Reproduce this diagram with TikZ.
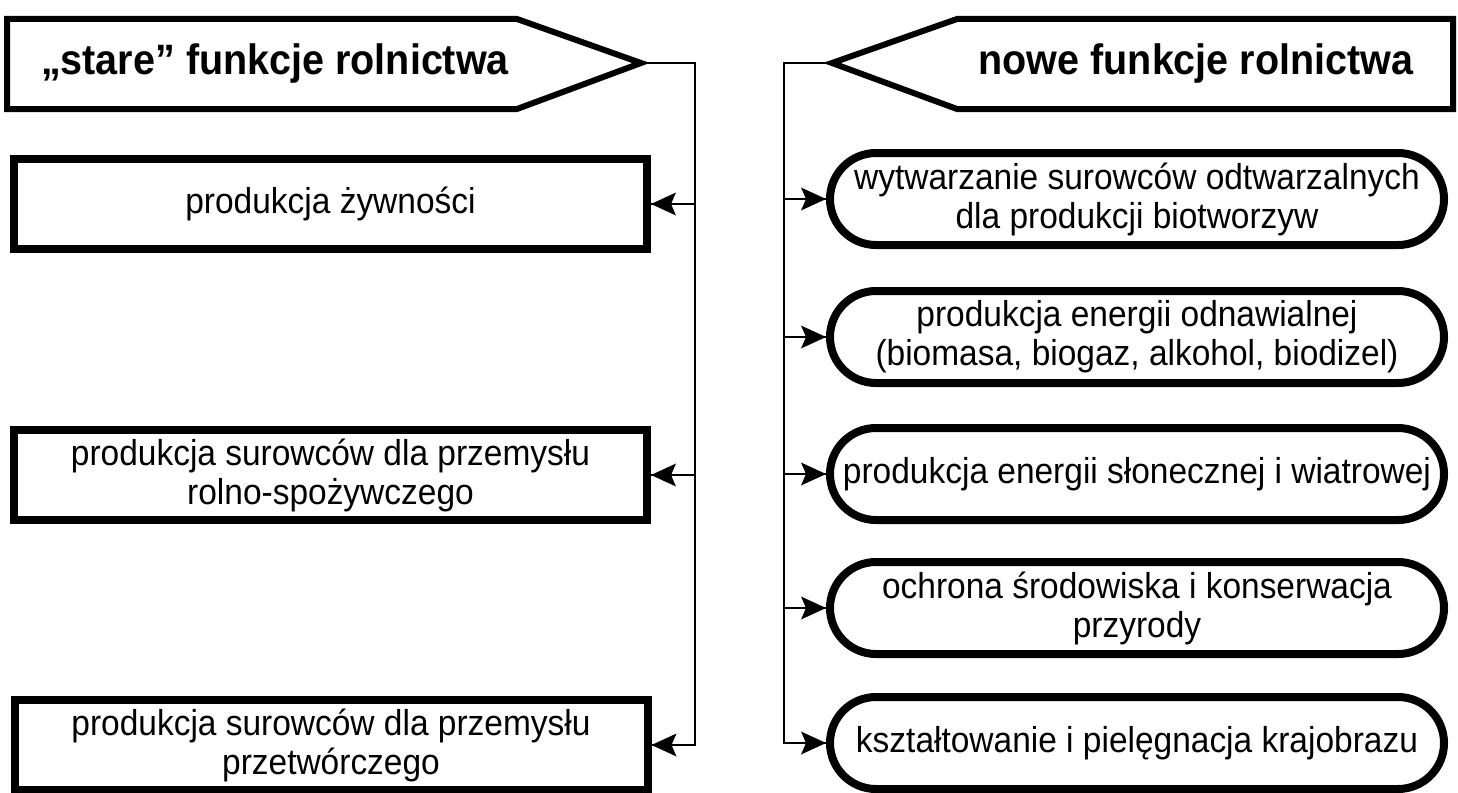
\documentclass[tikz,border=0pt]{standalone}
\usepackage{fontspec}
\setmainfont{Liberation Sans}[FakeStretch=0.93]
\usetikzlibrary{shapes.misc}
\tikzset{
  box/.style={draw, line width=8pt, minimum width=633pt, minimum height=90pt, align=center,
    font=\fontsize{36}{39}\selectfont, inner sep=0pt},
  rbox/.style={draw, rounded rectangle, line width=8pt, minimum width=614pt, minimum height=92pt,
    align=center, font=\fontsize{36}{39}\selectfont, inner sep=0pt},
  hdr/.style={draw, line width=6pt, line join=miter, fill=white},
  conn/.style={line width=2pt},
  headL/.pic={\fill (0,0) -- (25,-11.5) -- (20,0) -- (25,11.5) -- cycle;},
  headR/.pic={\fill (0,0) -- (-25,-11.5) -- (-20,0) -- (-25,11.5) -- cycle;},
  titletext/.style={font=\fontsize{42.5}{46}\selectfont\bfseries, inner sep=0pt}
}
\begin{document}
\begin{tikzpicture}[x=1pt,y=-1pt]
\useasboundingbox (0,0) rectangle (1458,792);
% headers
\draw[hdr] (7,19) -- (517,19) -- (641,63) -- (517,109) -- (7,109) -- cycle;
\coordinate (ltip) at (646,63);
\node[titletext] (lt) at (275,64) {„stare” funkcje rolnictwa};
\draw[hdr] (1453,19) -- (957,19) -- (832,63) -- (957,109) -- (1453,109) -- cycle;
\coordinate (rtip) at (827,63);
\node[titletext] (rt) at (1196,64) {nowe funkcje rolnictwa};
% left boxes
\node[box] (l1) at (330.5,204) {produkcja żywności};
\node[box] (l2) at (330.5,475) {produkcja surowców dla przemysłu\\rolno-spożywczego};
\node[box] (l3) at (331,745) {produkcja surowców dla przemysłu\\przetwórczego};
% right boxes
\node[rbox] (r1) at (1137,199) {wytwarzanie surowców odtwarzalnych\\dla produkcji biotworzyw};
\node[rbox] (r2) at (1137,337) {produkcja energii odnawialnej\\(biomasa, biogaz, alkohol, biodizel)};
\node[rbox] (r3) at (1137,474) {produkcja energii słonecznej i wiatrowej};
\node[rbox] (r4) at (1137,608) {ochrona środowiska i konserwacja\\przyrody};
\node[rbox] (r5) at (1137,743) {kształtowanie i pielęgnacja krajobrazu};
% connectors left
\coordinate (lx) at (695,63);
\draw[conn] (ltip) -- (lx) |- (l3.east);
\draw[conn] (lx |- l1.east) -- (l1.east);
\draw[conn] (lx |- l2.east) -- (l2.east);
\pic at (l1.east) {headL};
\pic at (l2.east) {headL};
\pic at (l3.east) {headL};
% connectors right
\coordinate (rx) at (784,63);
\draw[conn] (rtip) -- (rx) |- (r5.west);
\draw[conn] (rx |- r1.west) -- (r1.west);
\draw[conn] (rx |- r2.west) -- (r2.west);
\draw[conn] (rx |- r3.west) -- (r3.west);
\draw[conn] (rx |- r4.west) -- (r4.west);
\pic at (r1.west) {headR};
\pic at (r2.west) {headR};
\pic at (r3.west) {headR};
\pic at (r4.west) {headR};
\pic at (r5.west) {headR};
\end{tikzpicture}
\end{document}
